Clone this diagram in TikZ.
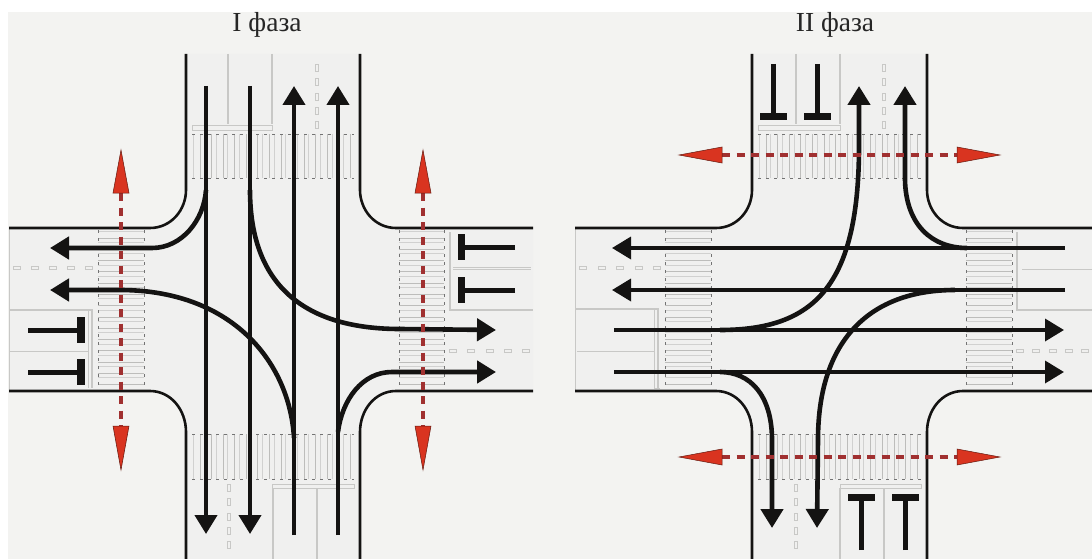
\documentclass[tikz,border=0pt]{standalone}
\usepackage{fontspec}
\setmainfont{Liberation Serif}
\usetikzlibrary{arrows.meta}
\definecolor{bgc}{HTML}{F3F3F1}
\definecolor{roadc}{HTML}{F0F0EF}
\definecolor{guide}{HTML}{C8C8C6}
\definecolor{stripe}{HTML}{BDBDBB}
\definecolor{inkc}{HTML}{141312}
\definecolor{redc}{HTML}{D93420}
\definecolor{dashc}{HTML}{A03030}
\tikzset{
  kerb/.style={draw=inkc,line width=2.6pt},
  flow/.style={draw=inkc,line width=4.2pt,-{Triangle[length=19pt,width=22pt]}},
  flowthin/.style={draw=inkc,line width=3.6pt,-{Triangle[length=19pt,width=22pt]}},
  curveflow/.style={draw=inkc,line width=4.6pt,-{Triangle[length=19pt,width=22pt]}},
  stopstem/.style={draw=inkc,line width=5pt},
  stopbar/.style={fill=inkc,draw=none},
  ped/.style={draw=dashc,line width=3.8pt,dash pattern=on 8pt off 6.5pt},
  pedtip/.style={fill=redc,draw=black!55!redc,line width=.5pt},
  guideline/.style={draw=guide,line width=1.6pt},
  guidethin/.style={draw=guide,line width=.8pt},
  stripeline/.style={draw=stripe,line width=1pt},
  stripelight/.style={draw=stripe!60!roadc,line width=.7pt},
  zebraedge/.style={draw=black!55,line width=.6pt,dash pattern=on 3pt off 5pt},
  markbox/.style={draw=guide,line width=.8pt,fill=roadc},
  title/.style={font=\fontsize{27.5}{30}\selectfont,text=black!85}
}
\newcommand{\roadcross}[4]{% #1 left end, #2 vert left, #3 vert right, #4 right end
  \fill[roadc] (#1,228) -- (#2-36,228) .. controls (#2-15,228) and (#2,210) .. (#2,190)
     -- (#2,54) -- (#3,54) -- (#3,190) .. controls (#3,210) and (#3+15,228) .. (#3+36,228)
     -- (#4,228) -- (#4,391) -- (#3+36,391) .. controls (#3+15,391) and (#3,410) .. (#3,432)
     -- (#3,559) -- (#2,559) -- (#2,432) .. controls (#2,410) and (#2-15,391) .. (#2-36,391)
     -- (#1,391) -- cycle;
  \draw[guidethin] (#1,228) -- (#1,391);
  \draw[kerb] (#1,228) -- (#2-36,228) .. controls (#2-15,228) and (#2,210) .. (#2,190) -- (#2,54);
  \draw[kerb] (#3,54) -- (#3,190) .. controls (#3,210) and (#3+15,228) .. (#3+36,228) -- (#4,228);
  \draw[kerb] (#1,391) -- (#2-36,391) .. controls (#2-15,391) and (#2,410) .. (#2,432) -- (#2,559);
  \draw[kerb] (#3,559) -- (#3,432) .. controls (#3,410) and (#3+15,391) .. (#3+36,391) -- (#4,391);
}
\newcommand{\zebrav}[4]{%
  \foreach \k in {0,1,...,13}{
    \pgfmathsetmacro{\xa}{#1+\k*(#2-#1)/14+1}
    \pgfmathsetmacro{\xb}{\xa+7}
    \draw[stripelight] (\xa,#3) -- (\xa,#4);
    \draw[stripeline] (\xb,#3) -- (\xb,#4);
  }
  \draw[zebraedge] (#1,#3) -- (#2,#3) (#1,#4) -- (#2,#4);
}
\newcommand{\zebrah}[4]{%
  \foreach \k in {0,1,...,13}{
    \pgfmathsetmacro{\ya}{#3+\k*(#4-#3)/14+1}
    \pgfmathsetmacro{\yb}{\ya+7}
    \draw[stripelight] (#1,\ya) -- (#2,\ya);
    \draw[stripeline] (#1,\yb) -- (#2,\yb);
  }
  \draw[zebraedge] (#1,#3) -- (#1,#4) (#2,#3) -- (#2,#4);
}
\newcommand{\dashmarkv}[3]{%
  \pgfmathsetmacro{\st}{(#3-#2)/4}
  \foreach \k in {0,1,2,3,4}{
    \draw[markbox] ({#1-1.5},{#2+\k*\st-3.5}) rectangle ({#1+1.5},{#2+\k*\st+3.5});
  }
}
\newcommand{\dashmarkh}[3]{%
  \pgfmathsetmacro{\st}{(#3-#2)/4}
  \foreach \k in {0,1,2,3,4}{
    \draw[markbox] ({#2+\k*\st-3.5},{#1-1.5}) rectangle ({#2+\k*\st+3.5},{#1+1.5});
  }
}
\newcommand{\stopdown}[3]{%
  \draw[stopstem] (#1,#2) -- (#1,#3);
  \fill[stopbar] (#1-13.5,#3) rectangle (#1+13.5,#3+7);
}
\newcommand{\stopup}[3]{%
  \draw[stopstem] (#1,#2) -- (#1,#3);
  \fill[stopbar] (#1-13.5,#3-7) rectangle (#1+13.5,#3);
}
\newcommand{\stopright}[3]{%
  \draw[stopstem] (#2,#1) -- (#3,#1);
  \fill[stopbar] (#3-7,#1-13) rectangle (#3,#1+13);
}
\newcommand{\stopleft}[3]{%
  \draw[stopstem] (#2,#1) -- (#3,#1);
  \fill[stopbar] (#3,#1-13) rectangle (#3+8,#1+13);
}
\newcommand{\pedv}[1]{%
  \draw[ped] (#1,193) -- (#1,427);
  \fill[pedtip] (#1,150) -- (#1+8,193) -- (#1-8,193) -- cycle;
  \fill[pedtip] (#1,470) -- (#1+8,426) -- (#1-8,426) -- cycle;
}
\newcommand{\pedh}[1]{%
  \draw[ped] (722,#1) -- (958,#1);
  \fill[pedtip] (679,#1) -- (722,#1-8) -- (722,#1+8) -- cycle;
  \fill[pedtip] (1000,#1) -- (957,#1-8) -- (957,#1+8) -- cycle;
}
\begin{document}
\begin{tikzpicture}[x=1pt,y=-1pt]
\useasboundingbox (0,0) rectangle (1092,559);
\fill[white] (0,0) rectangle (1092,559);
\fill[bgc] (8,12) rectangle (1092,559);
\node[title] (t1) at (267,25) {I фаза};
\node[title] (t2) at (835,25) {II фаза};

\roadcross{9}{186}{360}{533}
\zebrav{192}{354}{134}{178}
\zebrav{192}{354}{434}{479}
\zebrah{98}{144}{230}{388}
\zebrah{399}{444}{230}{388}
\draw[guideline] (228,54) -- (228,124) (272,54) -- (272,124);
\draw[guidethin] (192,125) rectangle (272,130);
\dashmarkv{317}{68}{125}
\draw[guideline] (273,488) -- (273,559) (317,488) -- (317,559);
\draw[guidethin] (272,484) rectangle (354,488);
\dashmarkv{229}{488}{545}
\draw[guideline] (450,232) -- (450,310) -- (533,310);
\draw[guidethin] (453,267) -- (531,267) (453,269) -- (531,269);
\dashmarkh{351}{453}{526}
\draw[guideline] (9,310) -- (92,310) -- (92,388);
\draw[guidethin] (9,351) -- (88,351) (88,310) -- (88,388);
\dashmarkh{268}{17}{89}

\draw[flow] (206,86) -- (206,534);
\draw[flow] (250,86) -- (250,534);
\draw[flow] (294,535) -- (294,86);
\draw[flow] (338,535) -- (338,86);
\draw[curveflow] (206,190) .. controls (204,220) and (182,248) .. (152,248) -- (50,248);
\draw[curveflow] (294,438) .. controls (290,365) and (235,291) .. (122,290) -- (50,290);
\draw[curveflow] (250,190) .. controls (250,290) and (310,329) .. (400,329) -- (496,330);
\draw[curveflow] (338,432) .. controls (342,400) and (362,372) .. (392,372) -- (496,372);

\stopright{247}{515}{465}
\stopright{290}{515}{465}
\stopleft{330}{28}{77}
\stopleft{372}{28}{77}
\pedv{121}
\pedv{423}

\roadcross{575}{752}{927}{1092}
\zebrav{758}{921}{134}{178}
\zebrav{758}{921}{434}{479}
\zebrah{665}{711}{230}{388}
\zebrah{966}{1012}{230}{388}
\draw[guideline] (796,54) -- (796,124) (840,54) -- (840,124);
\draw[guidethin] (758,125) rectangle (840,130);
\dashmarkv{884}{68}{125}
\draw[guideline] (840,488) -- (840,559) (884,488) -- (884,559);
\draw[guidethin] (840,484) rectangle (921,488);
\dashmarkv{796}{488}{545}
\draw[guideline] (1017,232) -- (1017,310) -- (1092,310);
\draw[guidethin] (1022,269) -- (1092,269);
\dashmarkh{351}{1020}{1085}
\draw[guideline] (575,309) -- (658,309) -- (658,388);
\draw[guidethin] (577,351) -- (654,351) (654,309) -- (654,388) -- (660,388);
\dashmarkh{268}{583}{657}

\draw[flowthin] (1065,248) -- (612,248);
\draw[flowthin] (1065,290) -- (612,290);
\draw[flowthin] (614,330) -- (1064,330);
\draw[flowthin] (614,372) -- (1064,372);
\draw[curveflow] (720,330) .. controls (815,330) and (858,285) .. (859,150) -- (859,86);
\draw[curveflow] (967,248) .. controls (932,248) and (906,225) .. (905,180) -- (905,86);
\draw[curveflow] (720,372) .. controls (750,372) and (772,395) .. (772,440) -- (772,528);
\draw[curveflow] (955,290) .. controls (870,290) and (818,340) .. (818,440) -- (817,528);

\stopdown{773}{64}{113}
\stopdown{817}{64}{113}
\stopup{861}{550}{501}
\stopup{905}{550}{501}
\pedh{155}
\pedh{457}
\end{tikzpicture}
\end{document}
